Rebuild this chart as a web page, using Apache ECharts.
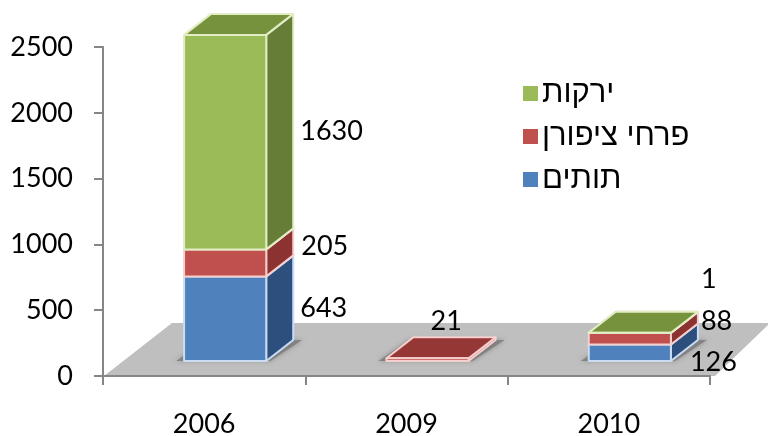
<!DOCTYPE html>
<html>
<head>
<meta charset="utf-8">
<style>html,body{margin:0;padding:0;background:#fff}#c{width:768px;height:436px}</style>
<script src="https://cdn.jsdelivr.net/npm/echarts@6/dist/echarts.min.js"></script>
</head>
<body>
<div id="c"></div>
<script>
const categories = ['2006', '2009', '2010'];
const berries = [643, 0, 126];
const carnations = [205, 21, 88];
const vegetables = [1630, 0, 1];
const seriesNames = ['תותים', 'פרחי ציפורן', 'ירקות'];
const legendOrder = ['ירקות', 'פרחי ציפורן', 'תותים'];
const yTicks = { min: 0, max: 2500, interval: 500 };

// styling and projection, kept apart from the values
const front = ['#4f81bd', '#c0504d', '#9bbb59'];
const side = ['#2c4f7e', '#8c3230', '#667d38'];
const top3d = ['#3a679c', '#953735', '#76923c'];
const edge = ['#c9dcf3', '#f4cfcd', '#e2edc4'];
const FONT = 'Lato';
const SHIFT_X = 21, SHIFT_Y = -15, DEPTH_X = 27, DEPTH_Y = -21, BAR_RATIO = 0.406;
const labelNudges = [
  [[34, -10], [0, 0], [19, 10]],
  [[35, -17], [-38, -38], [30, -17]],
  [[34, -11], [0, 0], [30, -53]]
];

const stacks = [berries, carnations, vegetables];
function rows(si) {
  return categories.map((c, ci) => {
    let base = 0;
    for (let k = 0; k < si; k++) base += stacks[k][ci];
    return [ci, base, base + stacks[si][ci], stacks[si][ci], si];
  });
}
function box(api) {
  const ci = api.value(0);
  const p0 = api.coord([ci, api.value(1)]);
  const p1 = api.coord([ci, api.value(2)]);
  const w = api.size([1, 0])[0] * BAR_RATIO;
  const l = p0[0] + SHIFT_X - w / 2, r = l + w;
  return { l, r, b: p0[1] + SHIFT_Y, t: p1[1] + SHIFT_Y };
}
function poly(points, fill, stroke, lw) {
  return { type: 'polygon', shape: { points }, style: { fill, stroke, lineWidth: lw === undefined ? 2 : lw, lineJoin: 'round' } };
}
function renderBar(params, api) {
  if (!api.value(3)) return { type: 'group', children: [] };
  const si = api.value(4), q = box(api);
  const dx = DEPTH_X, dy = DEPTH_Y;
  return {
    type: 'group',
    children: [
      poly([[q.r, q.b], [q.r + dx, q.b + dy], [q.r + dx, q.t + dy], [q.r, q.t]], side[si], edge[si]),
      poly([[q.l, q.t], [q.r, q.t], [q.r + dx, q.t + dy], [q.l + dx, q.t + dy]], top3d[si], edge[si]),
      poly([[q.l, q.b], [q.r, q.b], [q.r, q.t], [q.l, q.t]], front[si], edge[si])
    ]
  };
}
function renderLabel(params, api) {
  const v = api.value(3);
  if (!v) return { type: 'group', children: [] };
  const si = api.value(4), ci = api.value(0), q = box(api), n = labelNudges[si][ci];
  return {
    type: 'text',
    style: {
      text: String(v), x: q.r + n[0], y: (q.t + q.b) / 2 + n[1],
      fill: '#000', font: '27px ' + FONT, textAlign: 'left', textVerticalAlign: 'middle'
    }
  };
}
function renderFloor(params, api) {
  const cs = params.coordSys;
  const x0 = cs.x, x1 = cs.x + cs.width, y0 = cs.y + cs.height;
  return poly([[x0 + 1, y0], [x0 + 69, y0 - 53], [x1 + 60, y0 - 53], [x1 + 5, y0]], '#bfbfbf', 'none', 0);
}
function renderShadow(params, api) {
  const ci = api.value(0);
  const p = api.coord([ci, 0]);
  const w = api.size([1, 0])[0] * BAR_RATIO;
  const l = p[0] + SHIFT_X - w / 2, r = l + w, b = p[1] + SHIFT_Y;
  return {
    type: 'polygon',
    shape: { points: [[l - 8, b], [r + 4, b], [r + DEPTH_X + 9, b + DEPTH_Y], [l + DEPTH_X - 4, b + DEPTH_Y]] },
    style: { fill: 'rgba(125,125,125,0.85)', shadowBlur: 5, shadowColor: 'rgba(110,110,110,0.7)' }
  };
}

const chart = echarts.init(document.getElementById('c'), null, { renderer: 'canvas' });
chart.setOption({
  animation: false,
  backgroundColor: '#fff',
  grid: { left: 103, right: 58, top: 47, bottom: 60, containLabel: false, outerBoundsMode: 'none' },
  legend: {
    data: legendOrder, left: 518, top: 73, orient: 'vertical', itemWidth: 15, itemHeight: 15, itemGap: 12,
    icon: 'rect', selectedMode: false,
    textStyle: { fontFamily: 'Liberation Sans', fontSize: 31, color: '#000', padding: [0, 0, 0, -1] }
  },
  xAxis: {
    type: 'category', data: categories, z: 2,
    axisLine: { show: true, lineStyle: { color: '#868686', width: 2 } },
    axisTick: { show: true, length: 9, lineStyle: { color: '#868686', width: 2 } },
    axisLabel: { fontFamily: FONT, fontSize: 27, color: '#000', margin: 35 },
    splitLine: { show: false }
  },
  yAxis: {
    type: 'value', min: yTicks.min, max: yTicks.max, interval: yTicks.interval, z: 2,
    axisLine: { show: true, lineStyle: { color: '#868686', width: 2 } },
    axisTick: { show: true, length: 9, lineStyle: { color: '#868686', width: 2 } },
    axisLabel: { fontFamily: FONT, fontSize: 27, color: '#000', margin: 30, formatter: v => String(v) },
    splitLine: { show: false }
  },
  series: [
    { type: 'custom', z: 1, renderItem: renderFloor, data: [[0, 0]], encode: { x: 0, y: 1 }, silent: true },
    { type: 'custom', z: 3, renderItem: renderShadow, data: categories.map((c, i) => [i, 0]), encode: { x: 0, y: 1 }, silent: true }
  ].concat(seriesNames.map((name, si) => ({
    type: 'custom', name, z: 4, renderItem: renderBar, data: rows(si),
    encode: { x: 0, y: [1, 2] }, itemStyle: { color: front[si] }
  }))).concat(seriesNames.map((name, si) => ({
    type: 'custom', z: 5, renderItem: renderLabel, data: rows(si),
    encode: { x: 0, y: [1, 2] }, silent: true
  })))
});
</script>
</body>
</html>
